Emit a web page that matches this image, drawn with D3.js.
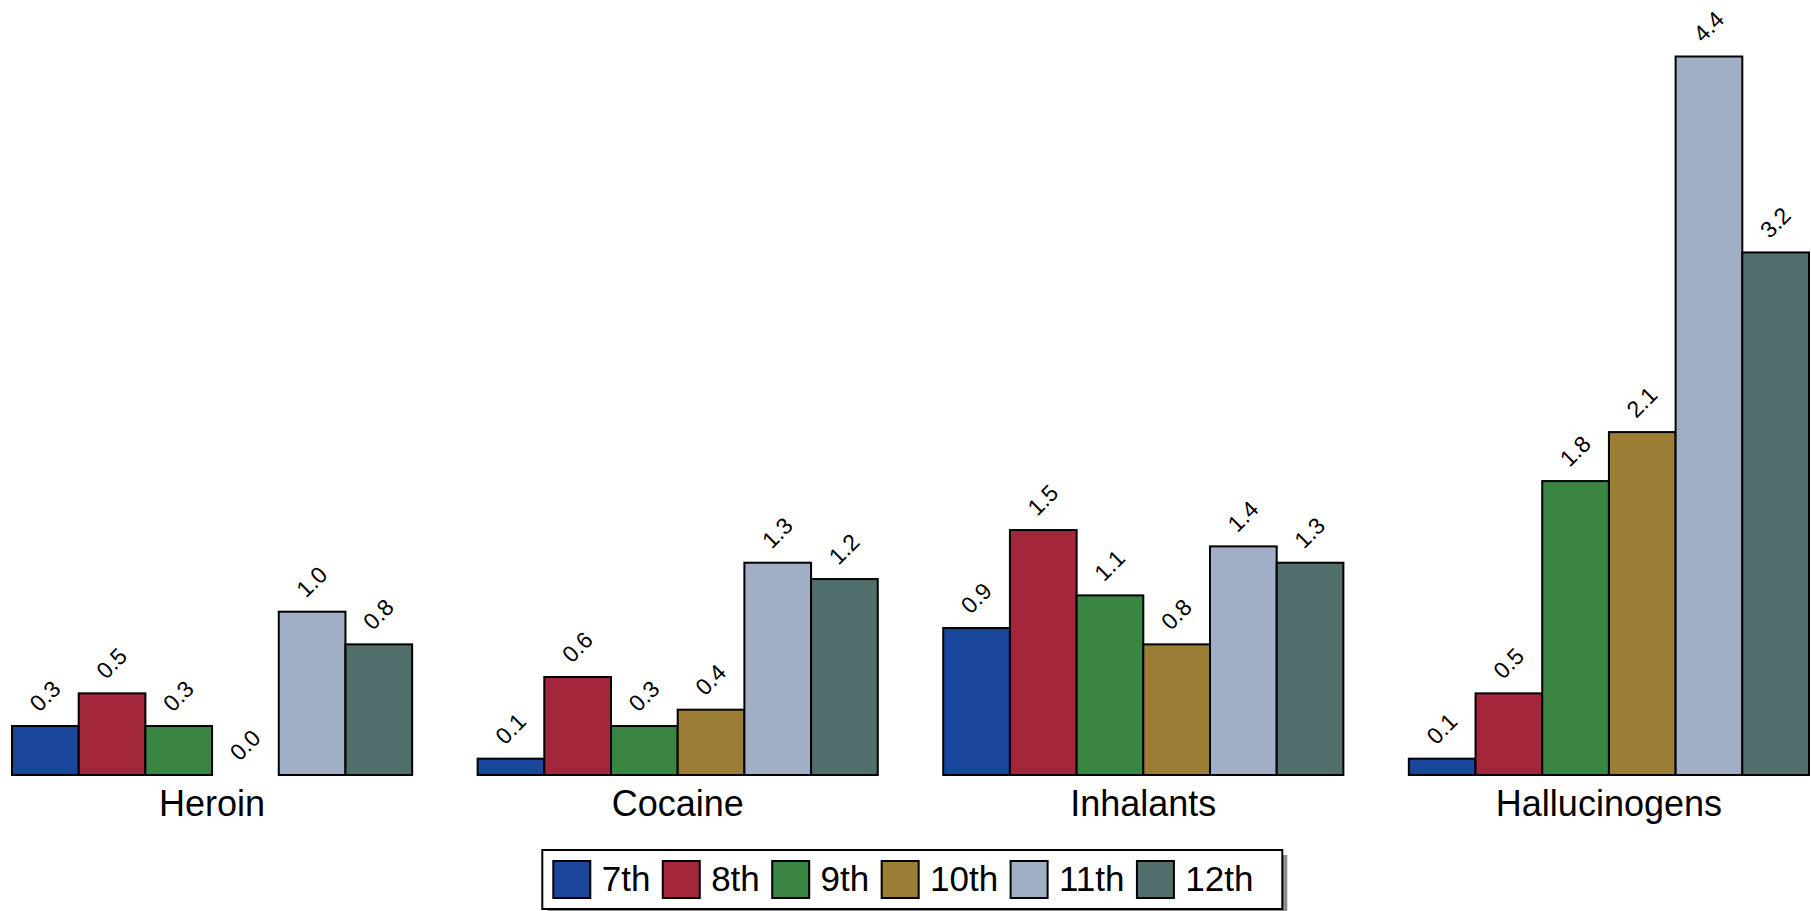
<!DOCTYPE html>
<html>
<head>
<meta charset="utf-8">
<script src="https://cdn.jsdelivr.net/npm/d3@7"></script>
<style>
  html, body { margin: 0; padding: 0; background: #fff; }
  svg { display: block; font-family: "Liberation Sans", Arial, Helvetica, sans-serif; }
</style>
</head>
<body>
<svg id="chart" width="1811" height="911"></svg>
<script>
// ---- data ----
const categories = ["Heroin", "Cocaine", "Inhalants", "Hallucinogens"];
const grades = ["7th", "8th", "9th", "10th", "11th", "12th"];
const heroin = [0.3, 0.5, 0.3, 0.0, 1.0, 0.8];
const cocaine = [0.1, 0.6, 0.3, 0.4, 1.3, 1.2];
const inhalants = [0.9, 1.5, 1.1, 0.8, 1.4, 1.3];
const hallucinogens = [0.1, 0.5, 1.8, 2.1, 4.4, 3.2];
const gradeColors = ["#1a469c", "#a4263a", "#3a8541", "#9b7d35", "#a1afc6", "#516f6d"];

const seriesByCategory = [heroin, cocaine, inhalants, hallucinogens];

// ---- layout ----
const svg = d3.select("#chart");
const xLeft = 12, xRight = 1809;
const yBase = 775, yTopAt44 = 56.5;

const x0 = d3.scaleBand().domain(categories).range([xLeft, xRight])
  .paddingInner(0.1406).paddingOuter(0);
const x1 = d3.scaleBand().domain(grades).range([0, x0.bandwidth()]).padding(0);
const y = d3.scaleLinear().domain([0, 4.4]).range([yBase, yTopAt44]);
const color = d3.scaleOrdinal().domain(grades).range(gradeColors);
const fmt = d3.format(".1f");

const rows = [];
categories.forEach((c, i) => {
  grades.forEach((g, j) => rows.push({cat: c, grade: g, value: seriesByCategory[i][j]}));
});

const groups = svg.append("g");
groups.selectAll("rect.bar").data(rows).enter().append("rect")
  .attr("class", "bar")
  .attr("x", d => x0(d.cat) + x1(d.grade))
  .attr("y", d => y(d.value))
  .attr("width", x1.bandwidth())
  .attr("height", d => yBase - y(d.value))
  .attr("fill", d => color(d.grade))
  .attr("stroke", "#000")
  .attr("stroke-width", 2);

// value labels rotated 45°
groups.selectAll("text.val").data(rows).enter().append("text")
  .attr("class", "val")
  .attr("transform", d => {
    const cx = x0(d.cat) + x1(d.grade) + x1.bandwidth() / 2 - 6;
    const cy = y(d.value) - 13;
    return `translate(${cx},${cy}) rotate(-45)`;
  })
  .attr("font-size", 23)
  .attr("fill", "#000")
  .text(d => fmt(d.value));

// category labels
svg.append("g").selectAll("text.cat").data(categories).enter().append("text")
  .attr("class", "cat")
  .attr("x", d => x0(d) + x0.bandwidth() / 2)
  .attr("y", 816)
  .attr("text-anchor", "middle")
  .attr("font-size", 36)
  .attr("fill", "#000")
  .text(d => d);

// ---- legend ----
const lg = svg.append("g");
const boxX = 542.3, boxY = 850, boxW = 740, boxH = 59;
lg.append("rect").attr("x", boxX + 5).attr("y", boxY + 5).attr("width", boxW).attr("height", boxH)
  .attr("fill", "#8c8c8c");
lg.append("rect").attr("x", boxX).attr("y", boxY).attr("width", boxW).attr("height", boxH)
  .attr("fill", "#fff").attr("stroke", "#000").attr("stroke-width", 2);

let cursor = boxX + 11;
grades.forEach((g, i) => {
  lg.append("rect").attr("x", cursor).attr("y", 861).attr("width", 37).attr("height", 37)
    .attr("fill", color(g)).attr("stroke", "#000").attr("stroke-width", 2);
  const t = lg.append("text").attr("x", cursor + 48.4).attr("y", 891)
    .attr("font-size", 35).attr("fill", "#000").text(g);
  const w = t.node().getComputedTextLength();
  cursor = cursor + 48.4 + w + 12.4;
});
</script>
</body>
</html>
